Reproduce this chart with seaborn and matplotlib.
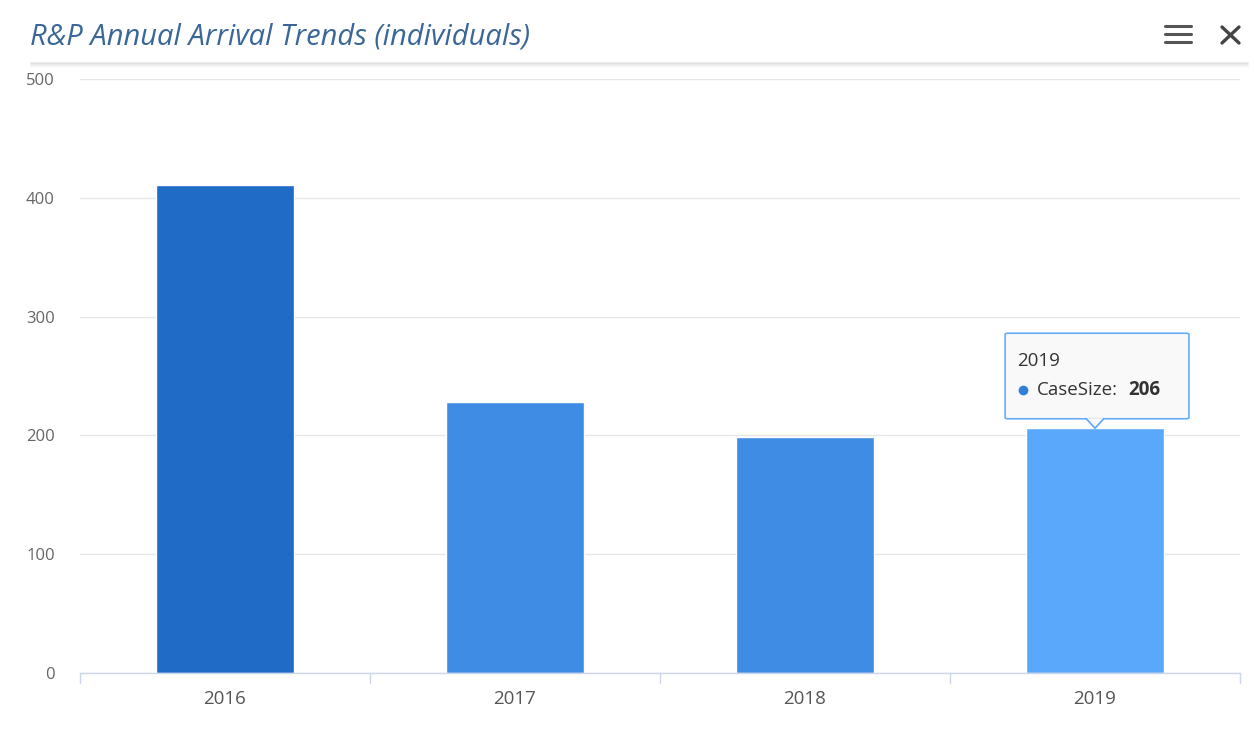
import matplotlib.pyplot as plt
import matplotlib.patches as mpatches
from matplotlib.lines import Line2D
import pandas as pd
import seaborn as sns

years = ["2016", "2017", "2018", "2019"]
case_size = [411, 228, 199, 206]
bar_colors = ["#1f6bc6", "#3f8ce4", "#3f8ce4", "#5aa8fb"]
y_ticks = [0, 100, 200, 300, 400, 500]

title = "R&P Annual Arrival Trends (individuals)"
hover_year = "2019"
series_name = "CaseSize"

sns.set_theme(style="white")
plt.rcParams["font.family"] = ["Open Sans", "DejaVu Sans"]

fig = plt.figure(figsize=(12.54, 7.38), dpi=100)
ax = fig.add_axes([80 / 1254, 65 / 738, 1160 / 1254, 594 / 738])

table = pd.DataFrame({"year": years, "value": case_size})
sns.barplot(data=table, x="year", y="value", hue="year", palette=bar_colors,
            width=0.476, saturation=1, legend=False, ax=ax)

ax.set_xlim(-0.5, len(years) - 0.5)
ax.set_ylim(0, 500)
ax.set_yticks(y_ticks)
ax.set_xlabel("")
ax.set_ylabel("")
ax.yaxis.grid(True, color="#e6e6e6", linewidth=1)
ax.set_axisbelow(True)
for side in ["top", "right", "left"]:
    ax.spines[side].set_visible(False)
ax.spines["bottom"].set_color("#ccd6eb")
ax.spines["bottom"].set_linewidth(1)
ax.tick_params(axis="y", length=0, labelsize=12, labelcolor="#666666", pad=18)
ax.tick_params(axis="x", length=0, labelsize=13.5, labelcolor="#555555", pad=12)
# category boundary tick marks
for b in range(len(years) + 1):
    ax.plot([b - 0.5, b - 0.5], [0, -0.017], transform=ax.get_xaxis_transform(),
            color="#ccd6eb", linewidth=1, clip_on=False)

# header
fig.text(30 / 1254, 1 - 37 / 738, title, fontsize=21, style="italic",
         color="#3a6797", va="center", ha="left")
for i, a in enumerate([0.18, 0.12, 0.08, 0.05, 0.03]):
    fig.add_artist(Line2D([0.025, 0.995], [1 - (63 + i) / 738] * 2,
                          color="#808080", alpha=a, linewidth=1.2))
for yy in [26, 34, 42]:
    fig.add_artist(Line2D([1165 / 1254, 1191 / 1254], [1 - yy / 738] * 2,
                          color="#555555", linewidth=2.2))
fig.add_artist(Line2D([1222 / 1254, 1239 / 1254], [1 - 27 / 738, 1 - 43 / 738],
                      color="#444444", linewidth=2.4))
fig.add_artist(Line2D([1222 / 1254, 1239 / 1254], [1 - 43 / 738, 1 - 27 / 738],
                      color="#444444", linewidth=2.4))

# tooltip
hi = years.index(hover_year)
val = case_size[hi]
tip = mpatches.FancyBboxPatch((hi - 0.31, val + 8), 0.634, 72,
                              boxstyle="round,pad=0,rounding_size=0.01",
                              facecolor="#f9f9f9", edgecolor="#5aa8fb",
                              linewidth=1.2, alpha=0.92, zorder=5,
                              mutation_aspect=100)
ax.add_patch(tip)
ax.add_patch(mpatches.Polygon([[hi - 0.03, val + 8.5], [hi + 0.03, val + 8.5],
                               [hi, val]], closed=True, facecolor="#f9f9f9",
                              edgecolor="none", zorder=6))
ax.plot([hi - 0.03, hi, hi + 0.03], [val + 8, val, val + 8],
        color="#5aa8fb", linewidth=1.2, zorder=6)
ax.text(hi - 0.269, val + 57, hover_year, fontsize=13.5, color="#333333",
        va="center", ha="left", zorder=7)
ax.plot([hi - 0.248], [val + 32], marker="o", markersize=7, color="#2f7ed8",
        markeredgewidth=0, zorder=7)
ax.text(hi - 0.199, val + 32, series_name + ":", fontsize=13.5, color="#333333",
        va="center", ha="left", zorder=7)
ax.text(hi + 0.114, val + 32, str(val), fontsize=13.5, color="#333333",
        fontweight="bold", va="center", ha="left", zorder=7)

fig.savefig("out.png", dpi=100)
